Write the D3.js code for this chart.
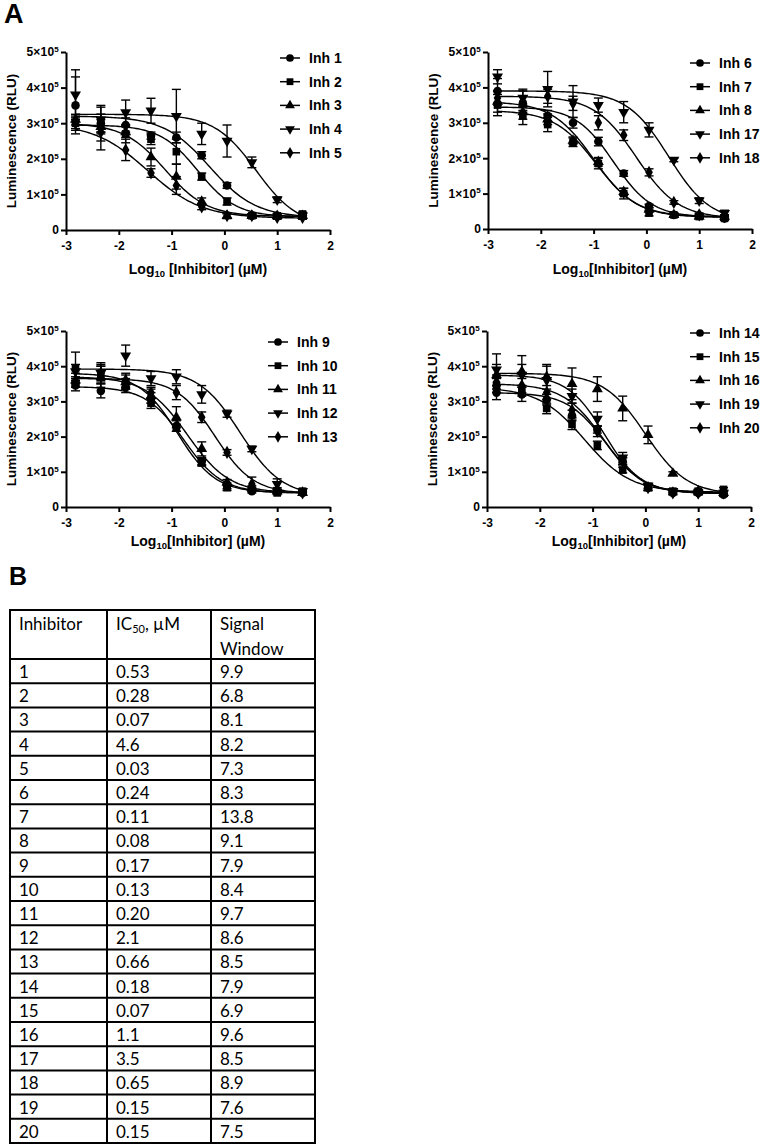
<!DOCTYPE html>
<html><head><meta charset="utf-8">
<script src="https://cdn.jsdelivr.net/npm/d3@7"></script>
<style>body{margin:0;background:#fff} svg{display:block}</style>
</head><body>
<svg id="c" width="762" height="1145"></svg>
<script>
// ---------- DATA ----------
const logConc = [-2.82, -2.34, -1.87, -1.39, -0.91, -0.43, 0.05, 0.52, 1.0, 1.48];
const yTickValues = [0, 1, 2, 3, 4, 5];      // in units of 10^5 RLU
const xTickValues = [-3, -2, -1, 0, 1, 2];

const panel1Names = ["Inh 1", "Inh 2", "Inh 3", "Inh 4", "Inh 5"];
const panel1Means = [
  [3.5, 3.0, 2.95, 2.65, 2.6, 2.1, 1.25, 0.4, 0.4, 0.4],
  [3.0, 3.0, 2.7, 2.55, 2.2, 1.5, 0.8, 0.4, 0.4, 0.45],
  [3.1, 2.9, 2.75, 2.05, 1.5, 0.8, 0.4, 0.4, 0.4, 0.4],
  [3.8, 3.1, 3.3, 3.35, 3.2, 2.7, 2.5, 1.9, 0.85, 0.4],
  [3.0, 2.75, 2.25, 1.6, 1.25, 0.65, 0.4, 0.4, 0.35, 0.35]
];
const panel1SD = [
  [0.8, 0.25, 0.2, 0.1, 0.15, 0.1, 0.08, 0.05, 0.05, 0.05],
  [0.2, 0.5, 0.25, 0.15, 0.35, 0.1, 0.1, 0.05, 0.05, 0.05],
  [0.15, 0.2, 0.15, 0.25, 0.35, 0.1, 0.08, 0.05, 0.05, 0.05],
  [0.7, 0.35, 0.35, 0.35, 0.75, 0.3, 0.45, 0.15, 0.08, 0.05],
  [0.15, 0.5, 0.3, 0.12, 0.25, 0.08, 0.05, 0.05, 0.05, 0.05]
];
// fitted curve parameters: [top, bottom, logIC50, hill]
const panel1Fit = [
  [3.2, 0.35, -0.28, 1.0],
  [2.95, 0.37, -0.5, 1.2],
  [3.0, 0.38, -1.12, 1.1],
  [3.25, 0.1, 0.6, 1.1],
  [3.0, 0.33, -1.45, 0.85]
];

const panel2Names = ["Inh 6", "Inh 7", "Inh 8", "Inh 17", "Inh 18"];
const panel2Means = [
  [3.9, 3.55, 3.2, 3.0, 2.47, 1.57, 0.65, 0.4, 0.38, 0.3],
  [3.5, 3.2, 2.95, 2.45, 1.85, 1.0, 0.45, 0.4, 0.35, 0.3],
  [3.6, 3.3, 3.1, 2.5, 1.9, 1.05, 0.55, 0.4, 0.35, 0.35],
  [4.3, 3.7, 3.95, 3.6, 3.5, 3.3, 2.8, 1.95, 0.8, 0.45],
  [3.7, 3.6, 3.75, 3.55, 3.0, 2.65, 1.6, 0.75, 0.4, 0.35]
];
const panel2SD = [
  [0.35, 0.2, 0.15, 0.15, 0.12, 0.08, 0.05, 0.05, 0.05, 0.05],
  [0.3, 0.25, 0.2, 0.12, 0.15, 0.15, 0.08, 0.05, 0.05, 0.05],
  [0.3, 0.2, 0.15, 0.1, 0.12, 0.1, 0.05, 0.05, 0.05, 0.05],
  [0.2, 0.25, 0.5, 0.45, 0.2, 0.3, 0.2, 0.05, 0.08, 0.08],
  [0.2, 0.3, 0.2, 0.2, 0.2, 0.15, 0.1, 0.05, 0.05, 0.05]
];
const panel2Fit = [
  [3.45, 0.33, -0.62, 1.2],
  [3.35, 0.33, -0.95, 1.1],
  [3.6, 0.35, -1.0, 1.1],
  [3.9, 0.2, 0.42, 1.1],
  [3.75, 0.3, -0.19, 1.1]
];

const panel3Names = ["Inh 9", "Inh 10", "Inh 11", "Inh 12", "Inh 13"];
const panel3Means = [
  [3.45, 3.3, 3.4, 3.1, 2.3, 1.3, 0.6, 0.45, 0.45, 0.4],
  [3.95, 3.8, 3.5, 2.95, 2.25, 1.25, 0.55, 0.5, 0.4, 0.45],
  [3.6, 3.7, 3.55, 3.15, 2.55, 1.65, 0.7, 0.55, 0.45, 0.4],
  [3.85, 3.8, 4.3, 3.65, 3.7, 3.2, 2.65, 1.65, 0.65, 0.45],
  [3.55, 3.8, 3.6, 3.25, 3.25, 2.55, 1.55, 0.65, 0.5, 0.4]
];
const panel3SD = [
  [0.15, 0.2, 0.15, 0.15, 0.15, 0.1, 0.08, 0.05, 0.05, 0.05],
  [0.45, 0.2, 0.15, 0.15, 0.1, 0.08, 0.08, 0.05, 0.05, 0.05],
  [0.2, 0.3, 0.2, 0.2, 0.3, 0.2, 0.08, 0.05, 0.05, 0.05],
  [0.2, 0.3, 0.3, 0.2, 0.2, 0.25, 0.1, 0.08, 0.15, 0.05],
  [0.15, 0.25, 0.2, 0.15, 0.2, 0.15, 0.08, 0.2, 0.05, 0.05]
];
const panel3Fit = [
  [3.42, 0.4, -0.77, 1.2],
  [3.8, 0.4, -0.89, 1.2],
  [3.7, 0.4, -0.7, 1.1],
  [3.92, 0.3, 0.3, 1.1],
  [3.65, 0.38, -0.18, 1.2]
];

const panel4Names = ["Inh 14", "Inh 15", "Inh 16", "Inh 19", "Inh 20"];
const panel4Means = [
  [3.25, 3.2, 3.05, 2.6, 2.2, 1.3, 0.55, 0.4, 0.4, 0.35],
  [3.45, 3.3, 2.8, 2.35, 1.75, 1.05, 0.55, 0.45, 0.45, 0.5],
  [3.75, 3.85, 3.7, 3.5, 3.35, 2.8, 2.05, 0.95, 0.45, 0.4],
  [3.9, 3.75, 3.6, 3.15, 2.5, 1.4, 0.6, 0.45, 0.4, 0.4],
  [3.55, 3.45, 3.25, 2.75, 2.15, 1.3, 0.55, 0.4, 0.4, 0.4]
];
const panel4SD = [
  [0.2, 0.2, 0.15, 0.15, 0.1, 0.1, 0.08, 0.05, 0.05, 0.05],
  [0.2, 0.15, 0.15, 0.15, 0.12, 0.08, 0.08, 0.05, 0.05, 0.05],
  [0.3, 0.45, 0.35, 0.45, 0.35, 0.35, 0.25, 0.05, 0.05, 0.05],
  [0.45, 0.3, 0.4, 0.2, 0.2, 0.15, 0.08, 0.05, 0.05, 0.05],
  [0.2, 0.2, 0.2, 0.2, 0.15, 0.1, 0.08, 0.05, 0.05, 0.05]
];
const panel4Fit = [
  [3.25, 0.38, -0.75, 1.2],
  [3.4, 0.42, -1.15, 1.0],
  [3.8, 0.35, 0.0, 1.1],
  [3.75, 0.4, -0.78, 1.25],
  [3.5, 0.38, -0.8, 1.15]
];

const tableHeaders = ["Inhibitor", "IC50, µM", "Signal Window"];
const tableInhibitor = ["1","2","3","4","5","6","7","8","9","10","11","12","13","14","15","16","17","18","19","20"];
const tableIC50 = ["0.53","0.28","0.07","4.6","0.03","0.24","0.11","0.08","0.17","0.13","0.20","2.1","0.66","0.18","0.07","1.1","3.5","0.65","0.15","0.15"];
const tableSignal = ["9.9","6.8","8.1","8.2","7.3","8.3","13.8","9.1","7.9","8.4","9.7","8.6","8.5","7.9","6.9","9.6","8.5","8.9","7.6","7.5"];

// ---------- LAYOUT ----------
const svg = d3.select("#c");
const FONT = "'Liberation Sans', Arial, sans-serif";
const panels = [
  {names: panel1Names, means: panel1Means, sd: panel1SD, fit: panel1Fit, x0: 66, x1: 330, yT: 52, yB: 230, legX: 290, legY: 58, title: "space", titleY: 274},
  {names: panel2Names, means: panel2Means, sd: panel2SD, fit: panel2Fit, x0: 488, x1: 752, yT: 52, yB: 229, legX: 700, legY: 63, title: "nospace", titleY: 274},
  {names: panel3Names, means: panel3Means, sd: panel3SD, fit: panel3Fit, x0: 66, x1: 330, yT: 331, yB: 507, legX: 278, legY: 342, title: "nospace", titleY: 546},
  {names: panel4Names, means: panel4Means, sd: panel4SD, fit: panel4Fit, x0: 487, x1: 751, yT: 331, yB: 507, legX: 700, legY: 333, title: "nospace", titleY: 546}
];
const symbolTypes = [d3.symbolCircle, d3.symbolSquare, d3.symbolTriangle, d3.symbolTriangle, d3.symbolDiamond];
const symbolSizes = [58, 58, 52, 52, 50];
const symbolRot = [0, 0, 0, 180, 0];

svg.append("text").attr("x", 4).attr("y", 23).attr("font-family", FONT).attr("font-weight", "bold")
  .attr("font-size", 27).text("A");
svg.append("text").attr("x", 9).attr("y", 585).attr("font-family", FONT).attr("font-weight", "bold")
  .attr("font-size", 25).text("B");

function logistic(f, x) {
  const [top, bottom, c, h] = f;
  return bottom + (top - bottom) / (1 + Math.pow(10, h * (x - c)));
}

panels.forEach(p => {
  const x = d3.scaleLinear().domain([-3, 2]).range([p.x0, p.x1]);
  const y = d3.scaleLinear().domain([0, 5]).range([p.yB, p.yT]);
  const g = svg.append("g");

  // axes
  const xAxis = d3.axisBottom(x).tickValues(xTickValues).tickSize(5).tickSizeOuter(0).tickPadding(6).tickFormat(d => String(d));
  const gx = g.append("g").attr("transform", `translate(0,${p.yB})`).call(xAxis);
  gx.selectAll("text").attr("font-family", FONT).attr("font-weight", "bold").attr("font-size", 12).attr("fill", "#000");
  const yAxis = d3.axisLeft(y).tickValues(yTickValues).tickSize(5).tickSizeOuter(0).tickPadding(2).tickFormat(() => "");
  const gy = g.append("g").attr("transform", `translate(${p.x0},0)`).call(yAxis);
  gy.selectAll(".tick text").each(function(d) {
    const t = d3.select(this).attr("font-family", FONT).attr("font-weight", "bold").attr("font-size", 12).attr("fill", "#000").attr("letter-spacing", 0.2);
    if (d === 0) { t.text("0"); }
    else {
      t.append("tspan").text(d + "×10");
      t.append("tspan").attr("font-size", 8).attr("dy", -4.5).text("5");
    }
  });
  [gx, gy].forEach(a => {
    a.select(".domain").attr("stroke", "#000").attr("stroke-width", 2);
    a.selectAll(".tick line").attr("stroke", "#000").attr("stroke-width", 2);
  });

  // axis titles
  g.append("text").attr("transform", `translate(${p.x0 - 50},${(p.yT + p.yB) / 2}) rotate(-90)`)
    .attr("text-anchor", "middle").attr("font-family", FONT).attr("font-weight", "bold").attr("font-size", 13.5)
    .text("Luminescence (RLU)");
  const xt = g.append("text").attr("x", (p.x0 + p.x1) / 2).attr("y", p.titleY).attr("text-anchor", "middle")
    .attr("font-family", FONT).attr("font-weight", "bold").attr("font-size", 14);
  xt.append("tspan").text("Log");
  xt.append("tspan").attr("font-size", 9.5).attr("dy", 3).text("10");
  xt.append("tspan").attr("dy", -3).text(p.title === "space" ? " [Inhibitor] (µM)" : "[Inhibitor] (µM)");

  // curves
  const xs = d3.range(0, 121).map(i => logConc[0] + (logConc[logConc.length - 1] - logConc[0]) * i / 120);
  const line = d3.line().x(d => x(d[0])).y(d => y(d[1]));
  p.fit.forEach(f => {
    g.append("path").attr("d", line(xs.map(v => [v, logistic(f, v)])))
      .attr("fill", "none").attr("stroke", "#000").attr("stroke-width", 1.4);
  });

  // error bars
  p.means.forEach((m, si) => {
    m.forEach((v, i) => {
      const cx = x(logConc[i]);
      const lo = y(v - p.sd[si][i]), hi = y(v + p.sd[si][i]);
      g.append("line").attr("x1", cx).attr("x2", cx).attr("y1", lo).attr("y2", hi).attr("stroke", "#000").attr("stroke-width", 1.4);
      [lo, hi].forEach(yy => g.append("line").attr("x1", cx - 4.5).attr("x2", cx + 4.5).attr("y1", yy).attr("y2", yy).attr("stroke", "#000").attr("stroke-width", 1.4));
    });
  });
  // markers
  p.means.forEach((m, si) => {
    const sym = d3.symbol().type(symbolTypes[si]).size(symbolSizes[si]);
    m.forEach((v, i) => {
      g.append("path").attr("d", sym()).attr("fill", "#000")
        .attr("transform", `translate(${x(logConc[i])},${y(v)}) rotate(${symbolRot[si]})`);
    });
  });

  // legend
  p.names.forEach((n, si) => {
    const ly = p.legY + si * 23.7;
    g.append("line").attr("x1", p.legX - 10).attr("x2", p.legX + 10).attr("y1", ly).attr("y2", ly).attr("stroke", "#000").attr("stroke-width", 1.5);
    const sym = d3.symbol().type(symbolTypes[si]).size(symbolSizes[si] * 0.8);
    g.append("path").attr("d", sym()).attr("fill", "#000").attr("transform", `translate(${p.legX},${ly}) rotate(${symbolRot[si]})`);
    g.append("text").attr("x", p.legX + 19).attr("y", ly + 5).attr("font-family", FONT).attr("font-weight", "bold")
      .attr("font-size", 14).text(n);
  });
});

// ---------- TABLE ----------
const TF = "Lato, 'Open Sans', sans-serif";
const colX = [10, 107, 211, 315];
const headTop = 610, headBot = 659, rowH = (1143 - 659) / 20;
const tg = svg.append("g");
tg.append("text").attr("x", colX[0] + 9).attr("y", 630).attr("font-family", TF).attr("font-size", 17).text(tableHeaders[0]);
const ic = tg.append("text").attr("x", colX[1] + 9).attr("y", 630).attr("font-family", TF).attr("font-size", 17);
ic.append("tspan").text("IC");
ic.append("tspan").attr("font-size", 11).attr("dy", 3).text("50");
ic.append("tspan").attr("dy", -3).text(", µM");
const sw = tableHeaders[2].split(" ");
tg.append("text").attr("x", colX[2] + 9).attr("y", 630).attr("font-family", TF).attr("font-size", 17).text(sw[0]);
tg.append("text").attr("x", colX[2] + 9).attr("y", 655).attr("font-family", TF).attr("font-size", 17).text(sw[1]);

tableInhibitor.forEach((v, i) => {
  const by = headBot + i * rowH + 19;
  [v, tableIC50[i], tableSignal[i]].forEach((t, c) => {
    tg.append("text").attr("x", colX[c] + 9).attr("y", by).attr("font-family", TF).attr("font-size", 17).text(t);
  });
});
const yLines = [headTop, headBot].concat(d3.range(1, 21).map(i => headBot + i * rowH));
yLines.forEach(yy => tg.append("line").attr("x1", colX[0] - 1).attr("x2", colX[3] + 1).attr("y1", yy).attr("y2", yy).attr("stroke", "#000").attr("stroke-width", 2));
colX.forEach(xx => tg.append("line").attr("x1", xx).attr("x2", xx).attr("y1", headTop).attr("y2", yLines[yLines.length - 1]).attr("stroke", "#000").attr("stroke-width", 2));
</script>
</body></html>
